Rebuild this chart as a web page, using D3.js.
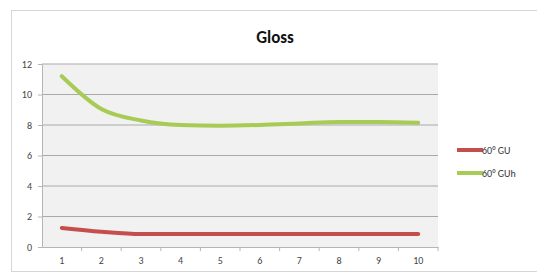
<!DOCTYPE html>
<html>
<head>
<meta charset="utf-8">
<script src="https://cdn.jsdelivr.net/npm/d3@7"></script>
<style>
  body { margin: 0; background: #fff; }
  text { font-family: Calibri, "Liberation Sans", Arial, sans-serif; }
</style>
</head>
<body>
<div id="chart-area"></div>
<script>
// chart values
const categories = [1, 2, 3, 4, 5, 6, 7, 8, 9, 10]
const gu = [1.25, 1.0, 0.85, 0.85, 0.85, 0.85, 0.85, 0.85, 0.85, 0.85]
const guh = [11.2, 9.05, 8.3, 8.0, 7.95, 8.0, 8.1, 8.2, 8.2, 8.15]
const yTicks = [0, 2, 4, 6, 8, 10, 12]
const seriesNames = ["60° GU", "60° GUh"]
const colors = ["#c44e4b", "#a8cb55"]

const svg = d3.select("#chart-area").append("svg")
  .attr("width", 537)
  .attr("height", 273)

// outer frame
svg.append("rect")
  .attr("x", 11.5).attr("y", 10.5)
  .attr("width", 530).attr("height", 261)
  .attr("fill", "#fff")
  .attr("stroke", "#d6d6d6")

const x = d3.scaleBand().domain(categories).range([42, 438])
const y = d3.scaleLinear().domain([0, 12]).range([247, 64])

// plot background
svg.append("rect")
  .attr("x", 42).attr("y", y(12))
  .attr("width", 396).attr("height", y(0) - y(12))
  .attr("fill", "#f1f1f1")

// gridlines
svg.append("g").selectAll("line")
  .data(yTicks.filter(d => d > 0))
  .enter().append("line")
  .attr("x1", 42).attr("x2", 438)
  .attr("y1", d => y(d)).attr("y2", d => y(d))
  .attr("stroke", "#a9a9a9")
  .attr("stroke-width", 1.2)

// y axis
const yAxis = svg.append("g")
  .attr("transform", "translate(42,0)")
  .call(d3.axisLeft(y).tickValues(yTicks).tickSize(4).tickPadding(6))
yAxis.select(".domain").attr("stroke", "#b5b5b5")
yAxis.selectAll(".tick line").attr("stroke", "#b5b5b5")
yAxis.selectAll("text").attr("font-size", 10).attr("fill", "#444")

// x axis
const xAxis = svg.append("g")
  .attr("transform", "translate(0," + y(0) + ")")
  .call(d3.axisBottom(x).tickSize(0).tickPadding(10))
xAxis.select(".domain").attr("stroke", "#b5b5b5")
xAxis.selectAll("text").attr("font-size", 10).attr("fill", "#444")
// tick marks between categories
svg.append("g").selectAll("line")
  .data(categories)
  .enter().append("line")
  .attr("x1", d => x(d) + x.bandwidth()).attr("x2", d => x(d) + x.bandwidth())
  .attr("y1", y(0)).attr("y2", y(0) + 4)
  .attr("stroke", "#b5b5b5")

const line = d3.line()
  .x((d, i) => x(categories[i]) + x.bandwidth() / 2)
  .y(d => y(d))
  .curve(d3.curveMonotoneX)

const series = [gu, guh]
series.forEach((s, i) => {
  svg.append("path")
    .datum(s)
    .attr("d", line)
    .attr("fill", "none")
    .attr("stroke", colors[i])
    .attr("stroke-width", 4)
    .attr("stroke-linecap", "round")
})

// title
svg.append("text")
  .attr("x", 275).attr("y", 43)
  .attr("text-anchor", "middle")
  .attr("font-size", 17)
  .attr("font-weight", "bold")
  .attr("fill", "#111")
  .text("Gloss")

// legend
const legend = svg.append("g").selectAll("g")
  .data(seriesNames)
  .enter().append("g")
  .attr("transform", (d, i) => "translate(457," + (150 + i * 23) + ")")
legend.append("line")
  .attr("x1", 0).attr("x2", 26)
  .attr("stroke", (d, i) => colors[i])
  .attr("stroke-width", 4)
legend.append("text")
  .attr("x", 25).attr("y", 4)
  .attr("font-size", 10)
  .attr("fill", "#333")
  .text(d => d)
</script>
</body>
</html>
